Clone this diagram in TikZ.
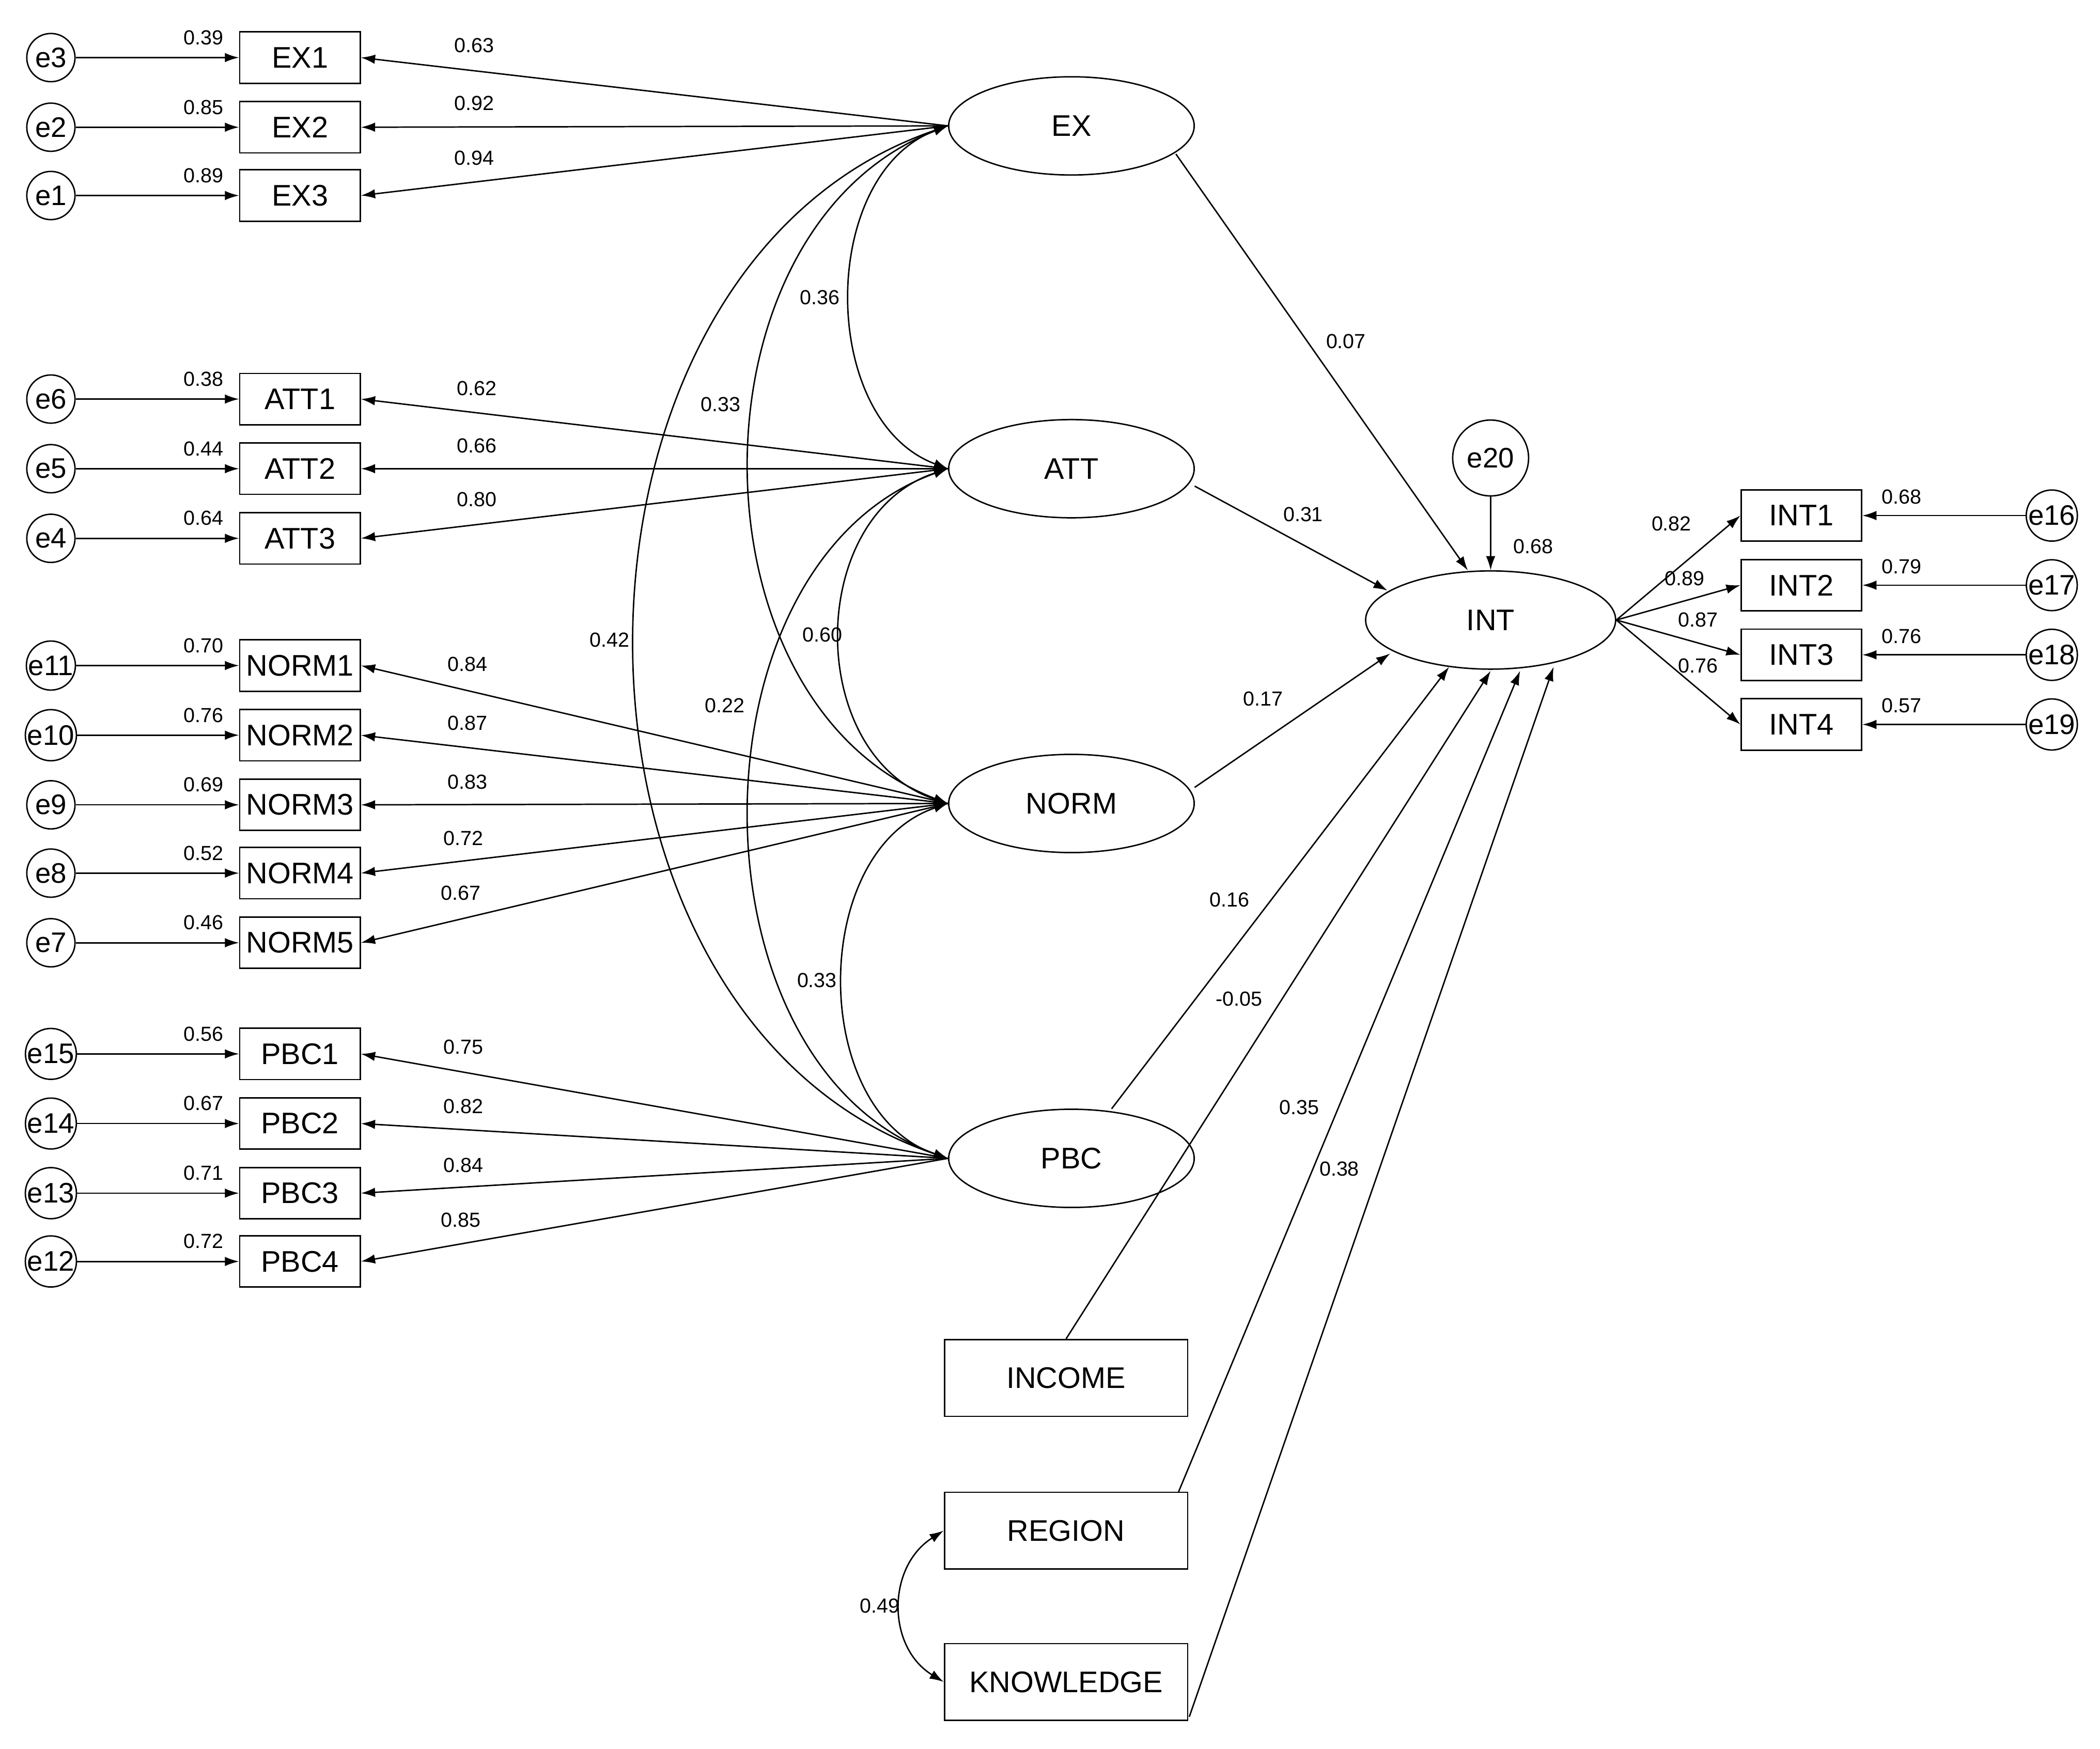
\documentclass[tikz,border=0pt]{standalone}
\usepackage{fontspec}
\setmainfont{Liberation Sans}
\usetikzlibrary{arrows.meta,shapes.geometric}
\begin{document}
\begin{tikzpicture}[x=0.03cm,y=-0.03cm,
  every path/.style={line width=0.9pt},
  box/.style={draw,minimum width=2.7cm,minimum height=1.15cm,inner sep=0,font=\fontsize{19}{22}\selectfont},
  bbox/.style={draw,minimum width=5.45cm,minimum height=1.72cm,inner sep=0,font=\fontsize{19}{22}\selectfont},
  lat/.style={draw,ellipse,minimum width=5.5cm,minimum height=2.2cm,inner sep=0,font=\fontsize{19}{22}\selectfont},
  err/.style={draw,circle,minimum size=1.08cm,inner sep=0,font=\fontsize{18}{20}\selectfont},
  lab/.style={font=\fontsize{13}{15}\selectfont,inner sep=1pt},
  arr/.style={-{Latex[length=9pt,width=6pt]}},
  darr/.style={{Latex[length=9pt,width=6pt]}-{Latex[length=9pt,width=6pt]}}]
\useasboundingbox (0,0) rectangle (1568,1306);
% latents
\node[lat] (EX) at (800,94) {EX};
\node[lat] (ATT) at (800,350) {ATT};
\node[lat] (NORM) at (800,600) {NORM};
\node[lat] (PBC) at (800,865) {PBC};
\node[lat,minimum width=5.6cm] (INT) at (1113,463) {INT};
\node[err,minimum size=1.7cm] (e20) at (1113,342) {e20};
% left indicators
\foreach \n/\e/\y/\l/\ll/\lx/\lat in {EX1/e3/43/0.39/0.63/354/EX,EX2/e2/95/0.85/0.92/354/EX,EX3/e1/146/0.89/0.94/354/EX,
 ATT1/e6/298/0.38/0.62/356/ATT,ATT2/e5/350/0.44/0.66/356/ATT,ATT3/e4/402/0.64/0.80/356/ATT,
 NORM1/e11/497/0.70/0.84/349/NORM,NORM2/e10/549/0.76/0.87/349/NORM,NORM3/e9/601/0.69/0.83/349/NORM,NORM4/e8/652/0.52/0.72/346/NORM,NORM5/e7/704/0.46/0.67/344/NORM,
 PBC1/e15/787/0.56/0.75/346/PBC,PBC2/e14/839/0.67/0.82/346/PBC,PBC3/e13/891/0.71/0.84/346/PBC,PBC4/e12/942/0.72/0.85/344/PBC}{
 \node[box] (\n) at (224,\y) {\n};
 \node[err] (\e) at (38,\y) {\e};
 \draw[arr] (\e) -- (\n);
 \node[lab] at (152,\y-15) {\l};
 \draw[arr] (\lat.west) -- (\n.east);
}
\node[lab] at (354,34) {0.63};\node[lab] at (354,77) {0.92};\node[lab] at (354,118) {0.94};
\node[lab] at (356,290) {0.62};\node[lab] at (356,333) {0.66};\node[lab] at (356,373) {0.80};
\node[lab] at (349,496) {0.84};\node[lab] at (349,540) {0.87};\node[lab] at (349,584) {0.83};\node[lab] at (346,626) {0.72};\node[lab] at (344,667) {0.67};
\node[lab] at (346,782) {0.75};\node[lab] at (346,826) {0.82};\node[lab] at (346,870) {0.84};\node[lab] at (344,911) {0.85};
% covariances
\draw[darr] (EX.west) .. controls (611,130) and (611,314) .. (ATT.west);
\draw[darr] (EX.west) .. controls (511,170) and (511,525) .. (NORM.west);
\draw[darr] (EX.west) .. controls (397,200) and (397,760) .. (PBC.west);
\draw[darr] (ATT.west) .. controls (601,385) and (601,565) .. (NORM.west);
\draw[darr] (ATT.west) .. controls (511,420) and (511,795) .. (PBC.west);
\draw[darr] (NORM.west) .. controls (604,635) and (604,830) .. (PBC.west);
\node[lab] at (612,222) {0.36};\node[lab] at (538,302) {0.33};\node[lab] at (455,478) {0.42};
\node[lab] at (614,474) {0.60};\node[lab] at (541,527) {0.22};\node[lab] at (610,732) {0.33};
% observed exogenous
\node[bbox] (INCOME) at (796,1029) {INCOME};
\node[bbox] (REGION) at (796,1143) {REGION};
\node[bbox] (KNOW) at (796,1256) {KNOWLEDGE};
\draw[darr] (REGION.west) .. controls (662,1170) and (662,1230) .. (KNOW.west);
\node[lab] at (657,1199) {0.49};
% structural
\coordinate (i1) at (1096,426);\coordinate (i2) at (1036,441);\coordinate (i3) at (1038,488);
\coordinate (i4) at (1082,498);\coordinate (i5) at (1113,501);\coordinate (i6) at (1135,501);\coordinate (i7) at (1160,498);
\coordinate (s1) at (878,115);\coordinate (s2) at (892,363);\coordinate (s3) at (892,588);\coordinate (s4) at (830,828);
\coordinate (s6) at (880,1114);\coordinate (s7) at (888,1282);
\draw[arr] (s1) -- (i1); \node[lab] at (1005,255) {0.07};
\draw[arr] (s2) -- (i2); \node[lab] at (973,384) {0.31};
\draw[arr] (s3) -- (i3); \node[lab] at (943,522) {0.17};
\draw[arr] (s4) -- (i4); \node[lab] at (918,672) {0.16};
\draw[arr] (INCOME.north) -- (i5); \node[lab] at (925,746) {-0.05};
\draw[arr] (s6) -- (i6); \node[lab] at (970,827) {0.35};
\draw[arr] (s7) -- (i7); \node[lab] at (1000,873) {0.38};
\draw[arr] (e20) -- (INT); \node[lab] at (1145,408) {0.68};
% right indicators
\foreach \n/\e/\y/\l/\ll/\lx/\ly in {INT1/e16/385/0.68/0.82/1248/391,INT2/e17/437/0.79/0.89/1258/432,INT3/e18/489/0.76/0.87/1268/463,INT4/e19/541/0.57/0.76/1268/497}{
 \node[box] (\n) at (1345,\y) {\n};
 \node[err] (\e) at (1532,\y) {\e};
 \draw[arr] (\e) -- (\n);
 \node[lab] at (1420,\y-14) {\l};
 \draw[arr] (INT.east) -- (\n.west);
 \node[lab] at (\lx,\ly) {\ll};
}
\end{tikzpicture}
\end{document}
